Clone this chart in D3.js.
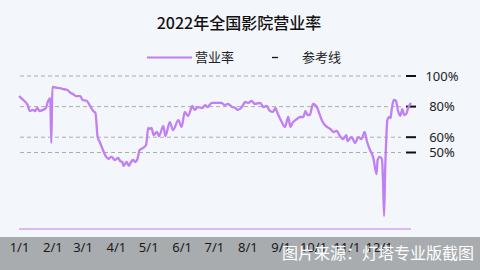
<!DOCTYPE html>
<html>
<head>
<meta charset="utf-8">
<script src="https://cdn.jsdelivr.net/npm/d3@7"></script>
<style>
  body { margin: 0; background: #f3f6fa; }
  svg { display: block; font-family: "Noto Sans", "Noto Sans CJK SC", sans-serif; }
</style>
</head>
<body>
<svg id="chart" width="480" height="270"></svg>
<script>
// 营业率 (%), dates in 2022
const dates = [
  "01-01","01-05","01-09","01-11","01-14","01-16","01-18","01-20","01-23","01-26","01-28","01-30","01-31",
  "02-01","02-06","02-11","02-15","02-17","02-20","02-23","02-27",
  "03-01","03-05","03-08","03-11","03-13","03-15","03-17","03-20","03-23","03-25","03-26","03-28","03-31",
  "04-03","04-05","04-07","04-08","04-11","04-13","04-15","04-17","04-19","04-21","04-23","04-26","04-29",
  "05-01","05-03","05-04","05-06","05-09","05-11","05-15","05-17","05-21","05-24","05-29",
  "06-01","06-04","06-07","06-11","06-13","06-16","06-20","06-23","06-25","06-29",
  "07-02","07-05","07-08","07-11","07-14","07-18","07-21","07-23","07-27","07-30",
  "08-02","08-05","08-08","08-13","08-16","08-19","08-22","08-25","08-27","08-29",
  "09-02","09-05","09-08","09-10","09-12","09-16","09-19","09-22","09-24","09-26","09-28",
  "10-01","10-05","10-07","10-10","10-14","10-17","10-20","10-23","10-26","10-29",
  "11-01","11-02","11-06","11-09","11-12","11-15","11-18","11-20","11-23","11-26","11-27","11-29","11-30",
  "12-02","12-04","12-05","12-06","12-07","12-08","12-09","12-11","12-12","12-13","12-15","12-17","12-19",
  "12-21","12-23","12-24","12-25","12-27","12-28","12-31"
];
const rates = [
  86.9,84.3,81.0,77.1,77.8,77.1,79.1,77.1,77.8,79.1,83.7,85.6,56.2,
  92.8,92.2,91.5,90.8,89.5,88.2,86.9,86.9,
  84.3,83.7,80.4,77.1,75.8,60.1,56.9,51.6,47.1,45.8,46.4,47.1,45.1,
  46.4,44.4,43.8,41.2,43.8,41.2,43.8,45.1,43.8,45.8,51.6,52.9,54.9,
  66.0,65.4,66.0,61.4,63.4,60.8,67.3,60.8,69.9,64.7,71.2,
  66.7,76.5,73.9,80.4,77.8,79.7,79.1,81.0,79.7,82.4,
  82.4,82.4,82.4,81.0,81.7,79.7,79.1,77.8,79.7,83.0,
  82.4,83.7,81.7,82.4,79.7,80.4,77.1,76.5,79.1,75.8,
  69.9,66.7,73.2,66.7,69.3,71.9,73.2,73.2,77.1,74.5,74.5,
  81.7,79.1,75.2,69.9,66.7,65.4,63.4,64.1,60.8,58.8,
  61.4,57.5,60.1,56.2,60.1,58.8,63.4,57.5,51.6,46.4,42.5,35.9,45.1,
  47.1,45.8,32.0,8.5,38.6,58.2,71.2,73.2,72.5,77.8,84.3,83.7,77.1,
  73.9,78.4,75.8,74.5,75.8,78.4,82.4
];
const refValues = [100, 80, 60, 50];
const refLabels = ["100%", "80%", "60%", "50%"];

const parse = d3.timeParse("%Y-%m-%d");
const series = dates.map((d, i) => ({ date: parse("2022-" + d), v: rates[i] }));

const svg = d3.select("#chart");

const x = d3.scaleTime()
  .domain([parse("2022-01-01"), parse("2022-12-31")])
  .range([19, 411]);
const y = d3.scaleLinear().domain([0, 100]).range([229, 76]);

// title
svg.append("text")
  .attr("x", 239).attr("y", 29)
  .attr("text-anchor", "middle")
  .attr("font-family", "Noto Sans CJK SC")
  .attr("font-size", 16)
  .attr("font-weight", 500)
  .attr("fill", "#111")
  .text("2022年全国影院营业率");

// legend
const lineColor = "#c07ff2";
svg.append("line")
  .attr("x1", 147).attr("x2", 192).attr("y1", 57.5).attr("y2", 57.5)
  .attr("stroke", lineColor).attr("stroke-width", 2);
svg.append("text")
  .attr("x", 195).attr("y", 62)
  .attr("font-family", "Noto Sans CJK SC").attr("font-size", 13).attr("fill", "#222")
  .text("营业率");
svg.append("line")
  .attr("x1", 272).attr("x2", 278).attr("y1", 57.5).attr("y2", 57.5)
  .attr("stroke", "#111").attr("stroke-width", 1.3);
svg.append("text")
  .attr("x", 302).attr("y", 62)
  .attr("font-family", "Noto Sans CJK SC").attr("font-size", 13).attr("fill", "#222")
  .text("参考线");

// reference lines
const ref = svg.append("g");
ref.selectAll("line.grid")
  .data(refValues)
  .join("line")
  .attr("class", "grid")
  .attr("x1", 20).attr("x2", 401)
  .attr("y1", d => y(d)).attr("y2", d => y(d))
  .attr("stroke", "#adadad")
  .attr("stroke-dasharray", "4,3");
ref.selectAll("line.mark")
  .data(refValues)
  .join("line")
  .attr("class", "mark")
  .attr("x1", 406).attr("x2", 416)
  .attr("y1", d => y(d)).attr("y2", d => y(d))
  .attr("stroke", "#111").attr("stroke-width", 2);
ref.selectAll("text")
  .data(refValues)
  .join("text")
  .attr("x", 442)
  .attr("y", d => y(d) + 4.5)
  .attr("text-anchor", "middle")
  .attr("font-size", 13)
  .attr("fill", "#222")
  .text((d, i) => refLabels[i]);

// bottom line at 0
svg.append("line")
  .attr("x1", x.range()[0]).attr("x2", x.range()[1])
  .attr("y1", y(0)).attr("y2", y(0))
  .attr("stroke", lineColor).attr("stroke-width", 1);

// data line
svg.append("path")
  .datum(series)
  .attr("fill", "none")
  .attr("stroke", lineColor)
  .attr("stroke-width", 2.3)
  .attr("stroke-linejoin", "round")
  .attr("d", d3.line().curve(d3.curveMonotoneX).x(d => x(d.date)).y(d => y(d.v)));

// grey band with month labels
svg.append("rect")
  .attr("x", 0).attr("y", 237).attr("width", 480).attr("height", 33)
  .attr("fill", "#a9acaf");

const axis = svg.append("g")
  .attr("transform", "translate(0,240)")
  .call(d3.axisBottom(x)
    .ticks(d3.timeMonth.every(1))
    .tickFormat(d3.timeFormat("%-m/%-d"))
    .tickSize(0));
axis.select(".domain").remove();
axis.selectAll("text")
  .attr("font-family", "Noto Sans")
  .attr("font-size", 13)
  .attr("fill", "#1a1a1a");

// watermark
svg.append("text")
  .attr("x", 282).attr("y", 259)
  .attr("font-family", "Noto Sans CJK SC")
  .attr("font-size", 16)
  .attr("fill", "#ffffff")
  .text("图片来源：灯塔专业版截图");
</script>
</body>
</html>
